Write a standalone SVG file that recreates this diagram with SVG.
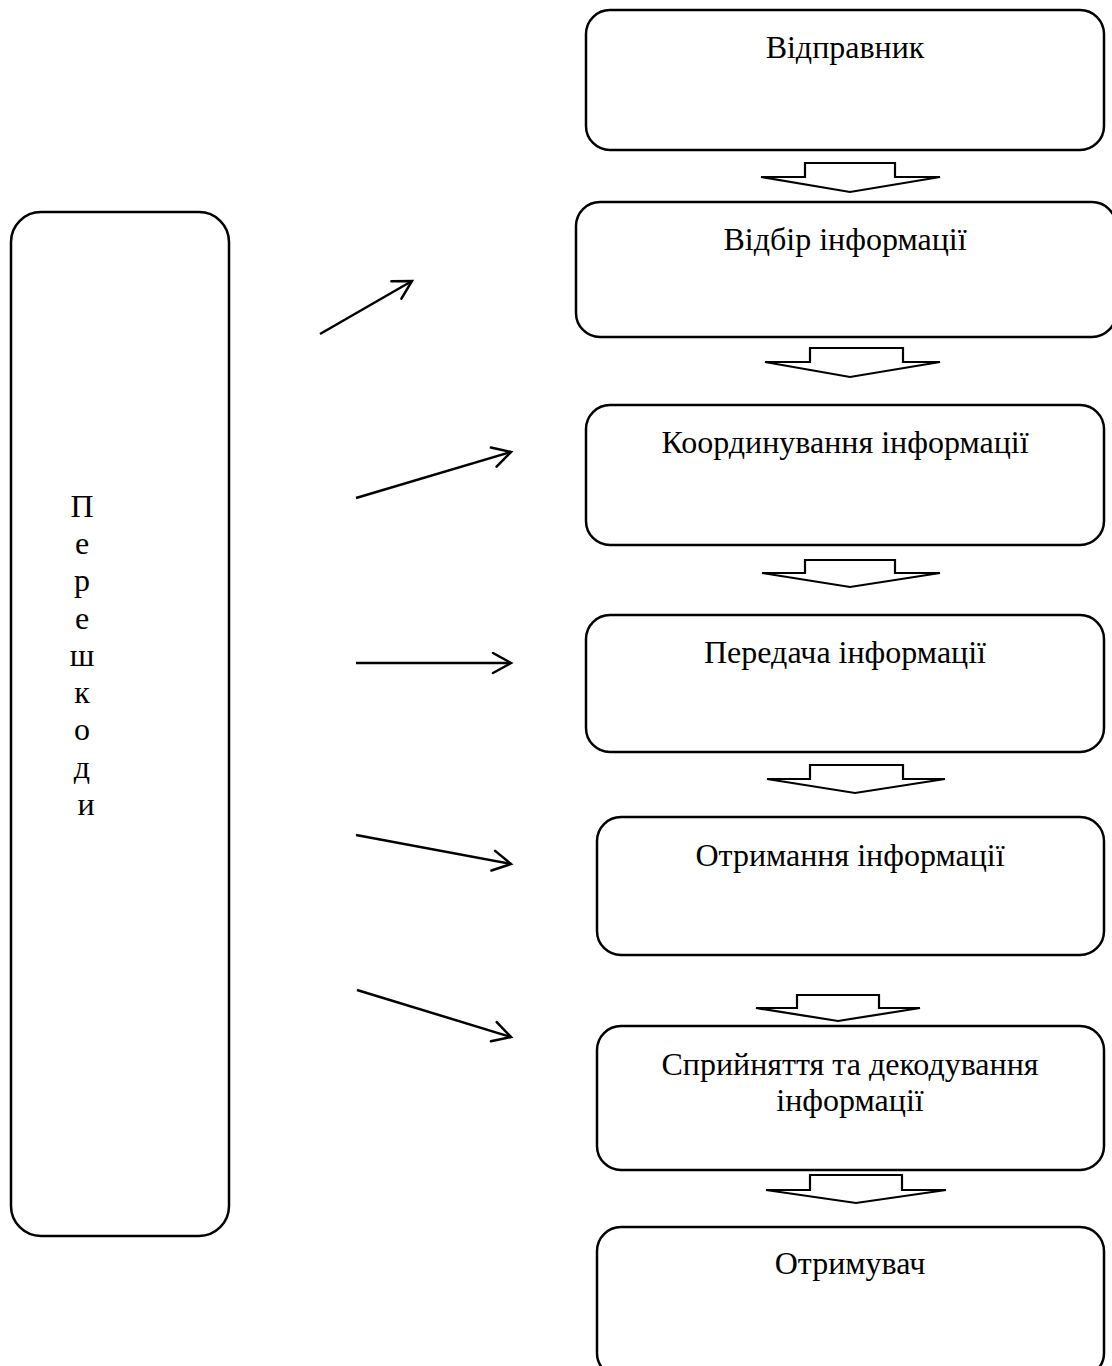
<svg xmlns="http://www.w3.org/2000/svg" width="1112" height="1366" viewBox="0 0 1112 1366">
  <style>
    .box { fill: #ffffff; stroke: #000000; stroke-width: 2.5; }
    .lbl { font-family: "Liberation Serif", "Times New Roman", serif; font-size: 32px; fill: #000000; text-anchor: middle; }
    .flow { fill: #ffffff; stroke: #000000; stroke-width: 2.2; stroke-linejoin: miter; }
    .noise { fill: none; stroke: #000000; stroke-width: 2.5; marker-end: url(#open); }
  </style>
  <defs>
    <marker id="open" markerUnits="userSpaceOnUse" markerWidth="40" markerHeight="40" refX="0" refY="0" viewBox="-20 -20 40 40" orient="auto" overflow="visible">
      <path d="M-18,-10 L0,0 L-18,10" fill="none" stroke="#000000" stroke-width="2.5" stroke-linecap="round"/>
    </marker>
  </defs>
  <rect width="1112" height="1366" fill="#ffffff"/>

  <!-- obstacles column -->
  <g id="node-obstacles">
    <rect class="box" x="11" y="212" width="218" height="1024" rx="30" ry="30"/>
    <text class="lbl">
      <tspan x="86" y="517">П</tspan>
      <tspan x="86" y="554">е</tspan>
      <tspan x="86" y="591">р</tspan>
      <tspan x="86" y="629">е</tspan>
      <tspan x="86" y="666">ш</tspan>
      <tspan x="86" y="703">к</tspan>
      <tspan x="86" y="740">о</tspan>
      <tspan x="86" y="778">д</tspan>
      <tspan x="86" y="815">и</tspan>
    </text>
  </g>

  <!-- communication stages -->
  <g id="node-sender">
    <rect class="box" x="586" y="10" width="518" height="140" rx="24" ry="24"/>
    <text class="lbl" x="845" y="58">Відправник</text>
  </g>
  <g id="node-selection">
    <rect class="box" x="576" y="202" width="540" height="135" rx="24" ry="24"/>
    <text class="lbl" x="845" y="250">Відбір інформації</text>
  </g>
  <g id="node-coordination">
    <rect class="box" x="586" y="405" width="518" height="140" rx="24" ry="24"/>
    <text class="lbl" x="845" y="453">Координування інформації</text>
  </g>
  <g id="node-transmission">
    <rect class="box" x="586" y="615" width="518" height="137" rx="24" ry="24"/>
    <text class="lbl" x="845" y="663">Передача інформації</text>
  </g>
  <g id="node-reception">
    <rect class="box" x="597" y="817" width="507" height="138" rx="24" ry="24"/>
    <text class="lbl" x="850" y="866">Отримання інформації</text>
  </g>
  <g id="node-decoding">
    <rect class="box" x="597" y="1026" width="507" height="144" rx="24" ry="24"/>
    <text class="lbl" x="850" y="1075">Сприйняття та декодування</text>
    <text class="lbl" x="850" y="1111">інформації</text>
  </g>
  <g id="node-receiver">
    <rect class="box" x="597" y="1227" width="507" height="150" rx="24" ry="24"/>
    <text class="lbl" x="850" y="1274">Отримувач</text>
  </g>

  <!-- connectors -->
  <g id="connectors">
    <!-- block arrows between stages -->
    <polygon class="flow" points="805,163 895,163 895,177 940,177 850,192 761,177 805,177"/>
    <polygon class="flow" points="810,348 903,348 903,362 940,362 850,377 765,362 810,362"/>
    <polygon class="flow" points="805,560 895,560 895,573 940,573 850,587 762,573 805,573"/>
    <polygon class="flow" points="810,765 903,765 903,779 945,779 855,793 767,779 810,779"/>
    <polygon class="flow" points="797,995 879,995 879,1008 920,1008 838,1021 756,1008 797,1008"/>
    <polygon class="flow" points="810,1175 902,1175 902,1190 946,1190 856,1203 766,1190 810,1190"/>

    <!-- interference arrows -->
    <line class="noise" x1="320" y1="334" x2="412" y2="281"/>
    <line class="noise" x1="356" y1="498" x2="511" y2="452"/>
    <line class="noise" x1="356" y1="663" x2="511" y2="663"/>
    <line class="noise" x1="356" y1="835" x2="511" y2="864"/>
    <line class="noise" x1="357" y1="990" x2="511" y2="1037"/>
  </g>
</svg>
